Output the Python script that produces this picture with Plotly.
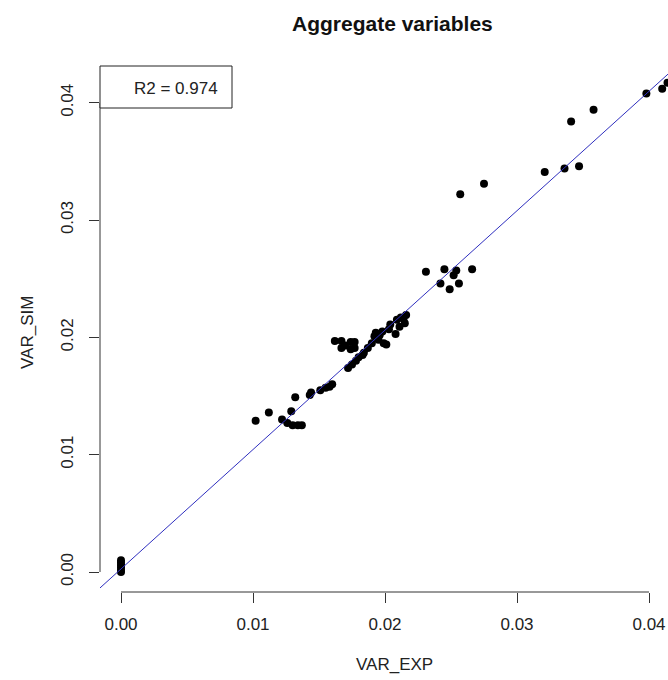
import plotly.graph_objects as go

# Experimental vs simulated variance for the aggregate variables
VAR_EXP = [
    0.0, 0.0, 0.0, 0.0, 0.0, 0.0,
    0.0102, 0.0112, 0.0122, 0.0126, 0.0130, 0.0134, 0.0137, 0.0129, 0.0132,
    0.0143, 0.0144, 0.0151, 0.0155, 0.0158, 0.0160,
    0.0162, 0.0167, 0.0170, 0.0174, 0.0177, 0.0167, 0.0174, 0.0177,
    0.0172, 0.0175, 0.0178, 0.0180, 0.0183, 0.0184, 0.0187, 0.0190, 0.0192,
    0.0193, 0.0196, 0.0195, 0.0199, 0.0201, 0.0204, 0.0208, 0.0209, 0.0212,
    0.0214, 0.0216, 0.0215, 0.0211, 0.0203, 0.0198,
    0.0231, 0.0242, 0.0245, 0.0249, 0.0252, 0.0254, 0.0256, 0.0257, 0.0266, 0.0275,
    0.0321, 0.0336, 0.0341, 0.0347, 0.0358, 0.0398, 0.0410, 0.0414,
]
VAR_SIM = [
    0.0, 0.0002, 0.0004, 0.0006, 0.0008, 0.0010,
    0.0129, 0.0136, 0.0130, 0.0127, 0.0125, 0.0125, 0.0125, 0.0137, 0.0149,
    0.0151, 0.0153, 0.0155, 0.0157, 0.0158, 0.0160,
    0.0197, 0.0197, 0.0193, 0.0196, 0.0196, 0.0191, 0.0190, 0.0191,
    0.0174, 0.0177, 0.0180, 0.0183, 0.0185, 0.0187, 0.0191, 0.0195, 0.0201,
    0.0204, 0.0202, 0.0198, 0.0195, 0.0194, 0.0211, 0.0203, 0.0215, 0.0217,
    0.0216, 0.0219, 0.0212, 0.0209, 0.0207, 0.0205,
    0.0256, 0.0246, 0.0258, 0.0241, 0.0253, 0.0257, 0.0246, 0.0322, 0.0258, 0.0331,
    0.0341, 0.0344, 0.0384, 0.0346, 0.0394, 0.0408, 0.0412, 0.0417,
]

# Least-squares fit line and its R2
FIT_INTERCEPT = 0.00026
FIT_SLOPE = 1.018
R2_LABEL = "R2 = 0.974"

TICKS = [0.00, 0.01, 0.02, 0.03, 0.04]
TICK_TEXT = ["0.00", "0.01", "0.02", "0.03", "0.04"]

W, H = 668, 680
ML, MR, MT, MB = 100, 0, 66, 88
PW, PH = W - ML - MR, H - MT - MB

X_RANGE = [-0.001591, 0.041439]
Y_RANGE = [-0.001705, 0.043137]

FONT = "Liberation Sans, Arial, sans-serif"
TXT = "#222222"


def px_to_paper_x(px):
    return (px - ML) / PW


def px_to_paper_y(py):
    return (H - MB - py) / PH


fig = go.Figure()

fig.add_trace(go.Scatter(
    x=VAR_EXP, y=VAR_SIM, mode="markers",
    marker=dict(color="black", size=8, line=dict(width=0)),
    cliponaxis=False, showlegend=False, hoverinfo="x+y",
))

line_x = list(X_RANGE)
line_y = [FIT_INTERCEPT + FIT_SLOPE * v for v in line_x]
fig.add_trace(go.Scatter(
    x=line_x, y=line_y, mode="lines",
    line=dict(color="#2f2fbf", width=1),
    showlegend=False, hoverinfo="skip",
))

axis_common = dict(
    showgrid=False, zeroline=False, showline=False,
    ticks="outside", ticklen=10, tickwidth=1, tickcolor="#333333",
    tickvals=TICKS, ticktext=TICK_TEXT,
    tickfont=dict(family=FONT, size=17, color=TXT),
    fixedrange=True,
)

fig.update_layout(
    width=W, height=H,
    margin=dict(l=ML, r=MR, t=MT, b=MB),
    plot_bgcolor="white", paper_bgcolor="white",
    xaxis=dict(range=X_RANGE, ticklabelstandoff=7, **axis_common),
    yaxis=dict(range=Y_RANGE, tickangle=-90, ticklabelstandoff=9, **axis_common),
    font=dict(family=FONT, color=TXT),
)

# Axis lines spanning only the first to last tick
fig.add_shape(type="line", xref="x", yref="paper", x0=TICKS[0], x1=TICKS[-1],
              y0=0, y1=0, line=dict(color="#333333", width=1))
fig.add_shape(type="line", xref="paper", yref="y", x0=0, x1=0,
              y0=TICKS[0], y1=TICKS[-1], line=dict(color="#333333", width=1))

# Legend box with R2
fig.add_shape(type="rect", xref="paper", yref="paper",
              x0=px_to_paper_x(100), x1=px_to_paper_x(232),
              y0=px_to_paper_y(108), y1=px_to_paper_y(66),
              line=dict(color="#222222", width=1), fillcolor="white", layer="above")
fig.add_annotation(text=R2_LABEL, xref="paper", yref="paper",
                   x=px_to_paper_x(132), y=px_to_paper_y(88.5),
                   xanchor="left", yanchor="middle", showarrow=False,
                   font=dict(family=FONT, size=17, color=TXT))

# Title and axis titles
fig.add_annotation(text="<b>Aggregate variables</b>", xref="paper", yref="paper",
                   x=px_to_paper_x(392), y=px_to_paper_y(23),
                   xanchor="center", yanchor="middle", showarrow=False,
                   font=dict(family=FONT, size=21, color="#111111"))
fig.add_annotation(text="VAR_EXP", xref="paper", yref="paper",
                   x=px_to_paper_x(394), y=px_to_paper_y(664),
                   xanchor="center", yanchor="middle", showarrow=False,
                   font=dict(family=FONT, size=17, color=TXT))
fig.add_annotation(text="VAR_SIM", xref="paper", yref="paper",
                   x=px_to_paper_x(27), y=px_to_paper_y(333),
                   xanchor="center", yanchor="middle", showarrow=False, textangle=-90,
                   font=dict(family=FONT, size=17, color=TXT))

fig.write_html("out.html")
